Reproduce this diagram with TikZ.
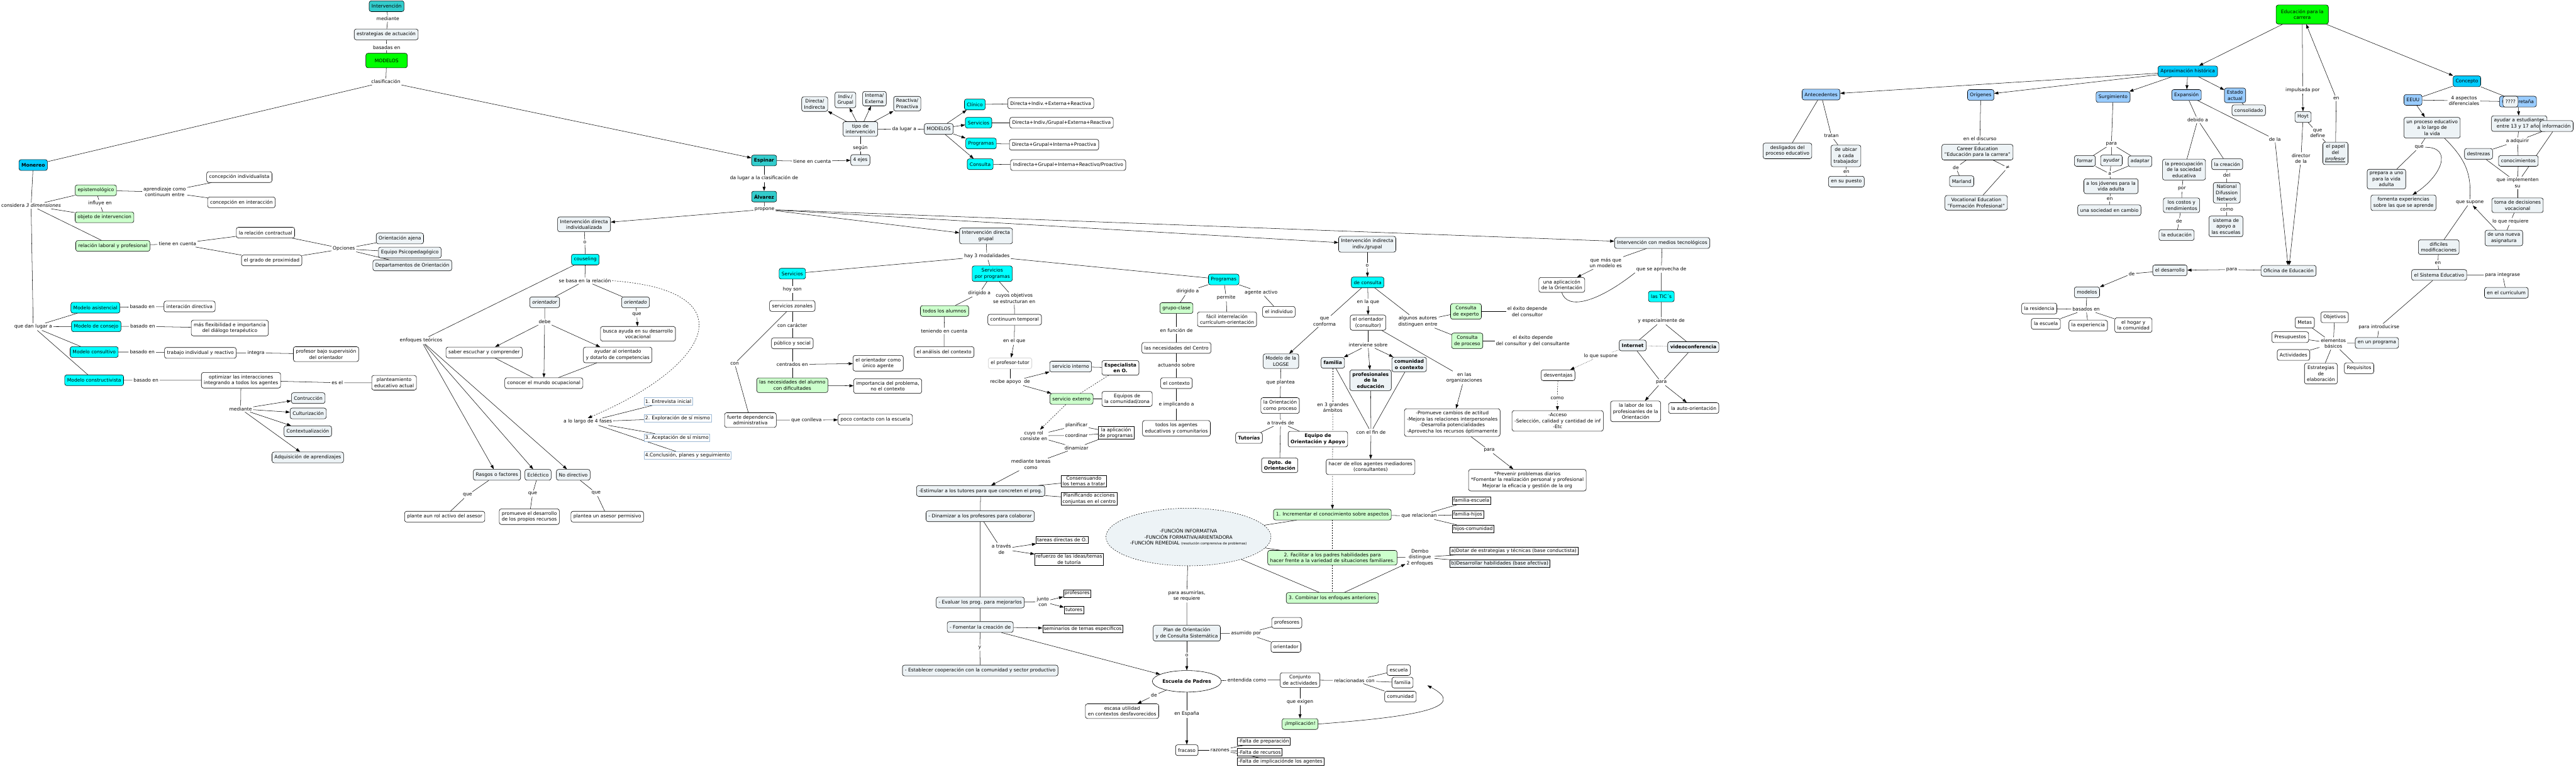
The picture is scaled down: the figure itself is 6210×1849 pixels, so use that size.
\documentclass[tikz,border=0pt]{standalone}
\usepackage{fontspec}
\setmainfont{DejaVu Sans}
\usetikzlibrary{arrows.meta,shapes.geometric,backgrounds}
\definecolor{cmgray}{HTML}{EDF3F6}
\definecolor{cmteal}{HTML}{33CCCC}
\definecolor{cmgreen}{HTML}{00FF00}
\definecolor{cmsky}{HTML}{00CCFF}
\definecolor{cmcyan}{HTML}{00FFFF}
\definecolor{cmblue}{HTML}{99CCFF}
\definecolor{cmlgreen}{HTML}{CCFFCC}
\definecolor{cmsteel}{HTML}{9DB9D5}
\newcommand{\cmfont}{\fontsize{11.5}{14.5}\selectfont}

\begin{document}
\begin{tikzpicture}[x=1pt, y=-1pt,
  cbox/.style={draw, line width=0.9pt, rounded corners=5pt, align=center,
               font=\cmfont, inner xsep=6pt, inner ysep=6pt, minimum height=26pt},
  cgray/.style={cbox, fill=cmgray},
  cwhite/.style={cbox, fill=white},
  ccyan/.style={cbox, fill=cmcyan},
  cteal/.style={cbox, fill=cmteal},
  csky/.style={cbox, fill=cmsky},
  cblue/.style={cbox, fill=cmblue},
  clgreen/.style={cbox, fill=cmlgreen},
  cgreen/.style={cbox, fill=cmgreen},
  cbold/.style={font=\cmfont\bfseries},
  cital/.style={font=\cmfont\itshape},
  sq/.style={draw, line width=0.8pt, fill=white, align=center, font=\cmfont,
             inner xsep=3pt, inner ysep=2pt, minimum height=18pt},
  phase/.style={draw=cmsteel, line width=0.8pt, fill=white, font=\cmfont,
                inner xsep=3pt, inner ysep=2pt, minimum height=18pt, anchor=west},
  lk/.style={align=center, font=\cmfont, inner sep=3pt},
  ln/.style={line width=0.8pt},
  ar/.style={ln, -{Triangle[length=10pt,width=7pt]}},
  dl/.style={ln, dashed},
  dar/.style={ar, dashed}]

\useasboundingbox (0,0) rectangle (6210,1849);

% ---- top: Intervencion -> MODELOS -------------------------------------
\node[cteal] (interv) at (932,15) {Intervención};
\node[lk] (lmed) at (935,45) {mediante};
\node[cgray] (estrat) at (931,83) {estrategias de actuación};
\node[lk] (lbas) at (932,114) {basadas en};
\node[cgreen, minimum width=100pt, minimum height=35pt] (modelos) at (932,146) {MODELOS};
\node[lk] (lclas) at (930,197) {clasificación};

% ---- Monereo ------------------------------------------------------------
\node[csky, cbold] (monereo) at (80,398) {Monereo};
\node[lk] (lcons) at (75,496) {considera \textit{3 dimensiones}};
\node[clgreen] (epist) at (231,459) {epistemológico};
\node[lk] (linfl) at (241,491) {influye en};
\node[clgreen] (objeto) at (252,524) {objeto de intervencion};
\node[clgreen] (relac) at (272,593) {relación laboral y profesional};
\node[lk] (lapr) at (397,463) {aprendizaje como\\continuum entre};
\node[cwhite] (cindiv) at (577,427) {concepción individualista};
\node[cwhite] (cinter) at (582,488) {concepción en interacción};
\node[lk] (ltien) at (428,588) {tiene en cuenta};
\node[cwhite] (contract) at (640,561) {la relación contractual};
\node[cwhite] (proxim) at (655,628) {el grado de proximidad};
\node[lk] (lopc) at (829,600) {Opciones};
\node[cgray] (ajena) at (964,575) {Orientación ajena};
\node[cgray] (equipo) at (988,609) {Equipo Psicopedagógico};
\node[cgray] (depart) at (994,640) {Departamentos de Orientación};

\node[lk] (ldan) at (80,788) {que dan lugar a};
\node[ccyan] (masist) at (230,742) {Modelo asistencial};
\node[ccyan] (mconse) at (232,787) {Modelo de consejo};
\node[ccyan] (mconsu) at (227,849) {Modelo consultivo};
\node[ccyan] (mconst) at (227,917) {Modelo constructivista};
\node[lk] (lb1) at (343,740) {basado en};
\node[lk] (lb2) at (344,787) {basado en};
\node[lk] (lb3) at (343,849) {basado en};
\node[lk] (lb4) at (352,917) {basado en};
\node[cwhite] (idir) at (457,739) {interación directiva};
\node[cwhite] (flex) at (554,791) {más flexibilidad e importancia\\del diálogo terapéutico};
\node[cwhite] (trab) at (483,851) {trabajo individual y reactivo};
\node[lk] (lint) at (617,851) {integra};
\node[cwhite] (prof) at (786,854) {profesor bajo supervisión\\del orientador};
\node[cwhite] (optim) at (581,917) {optimizar las interacciones\\integrando a todos los agentes};
\node[lk] (lesel) at (813,923) {es el};
\node[cwhite] (plant) at (950,923) {planteamiento\\educativo actual};
\node[lk] (lmed2) at (580,986) {mediante};
\node[cgray] (contr) at (743,960) {Contrucción};
\node[cgray] (cultu) at (743,997) {Culturización};
\node[cgray] (conte) at (742,1040) {Contextualización};
\node[cgray] (adqui) at (742,1103) {Adquisición de aprendizajes};

% ---- Espinar / Alvarez --------------------------------------------------
\node[cteal, cbold] (espinar) at (1842,387) {Espinar};
\node[lk] (ltien2) at (1958,389) {tiene en cuenta};
\node[cgray] (ejes) at (2074,386) {4 ejes};
\node[lk] (lseg) at (2074,356) {según};
\node[cgray] (tipo) at (2074,311) {tipo de\\intervención};
\node[cgray] (ax1) at (1964,251) {Directa/\\Indirecta};
\node[cgray] (ax2) at (2038,241) {Indiv./\\Grupal};
\node[cgray] (ax3) at (2108,238) {Interna/\\Externa};
\node[cgray] (ax4) at (2187,250) {Reactiva/\\Proactiva};
\node[lk] (ldal) at (2180,312) {da lugar a};
\node[cgray] (modelos2) at (2263,311) {MODELOS};
\node[ccyan] (clin) at (2350,252) {Clínico};
\node[ccyan] (serv) at (2359,296) {Servicios};
\node[ccyan] (prog) at (2365,346) {Programas};
\node[ccyan] (consu) at (2363,396) {Consulta};
\node[cwhite] (d1) at (2533,249) {Directa+Indiv.+Externa+Reactiva};
\node[cwhite] (d2) at (2559,296) {Directa+Indiv./Grupal+Externa+Reactiva};
\node[cwhite] (d3) at (2541,349) {Directa+Grupal+Interna+Proactiva};
\node[cwhite] (d4) at (2575,398) {Indirecta+Grupal+Interna+Reactivo/Proactivo};
\node[lk] (ldac) at (1842,430) {da lugar a la clasificación de};
\node[cteal, cbold] (alvarez) at (1842,474) {Álvarez};
\node[lk] (lprop) at (1843,505) {propone};

% ---- Intervencion directa individualizada ------------------------------
\node[cgray] (idi) at (1408,541) {Intervención directa\\individualizada};
\node[lk] (lo1) at (1410,584) {o};
\node[ccyan] (cous) at (1411,626) {couseling};
\node[lk] (lsebasa) at (1410,677) {se basa en la relación};
\node[cgray, cital] (orient) at (1313,729) {orientador};
\node[cgray, cital] (orientado) at (1532,729) {orientado};
\node[lk] (ldebe) at (1313,776) {debe};
\node[cwhite] (saber) at (1167,850) {saber escuchar y comprender};
\node[cwhite] (conocer) at (1311,924) {conocer el mundo ocupacional};
\node[cwhite] (ayudar) at (1489,856) {ayudar al orientado\\y dotarlo de competencias};
\node[lk] (lque1) at (1535,758) {que};
\node[cwhite] (busca) at (1538,805) {busca ayuda en su desarrollo\\vocacional};
\node[lk] (lenf) at (1015,821) {enfoques teóricos};
\node[cgray] (rasgos) at (1198,1145) {Rasgos o factores};
\node[cgray] (eclec) at (1297,1145) {Ecléctico};
\node[cgray] (nodir) at (1382,1145) {No directivo};
\node[lk] (lq1) at (1127,1194) {que};
\node[lk] (lq2) at (1284,1190) {que};
\node[lk] (lq3) at (1437,1189) {que};
\node[cwhite] (rolact) at (1072,1246) {plante aun rol activo del asesor};
\node[cwhite] (promu) at (1276,1246) {promueve el desarrollo\\de los propios recursos};
\node[cwhite] (permis) at (1464,1246) {plantea un asesor permisivo};
\node[lk] (lfases) at (1417,1017) {a lo largo de 4 fases};
\node[phase] (f1) at (1552,968) {1. Entrevista inicial};
\node[phase] (f2) at (1552,1009) {2. Exploración de sí mismo};
\node[phase] (f3) at (1552,1055) {3. Aceptación de sí mismo};
\node[phase] (f4) at (1552,1098) {4.Conclusión, planes y seguimiento};

% ---- Intervencion directa grupal ----------------------------------------
\node[cgray] (idg) at (2377,569) {Intervención directa\\grupal};
\node[lk] (lhay) at (2379,618) {hay 3 modalidades};
\node[ccyan] (servs) at (1910,660) {Servicios};
\node[ccyan] (sprog) at (2392,660) {Servicios\\por programas};
\node[ccyan] (progs) at (2950,674) {Programas};

\node[lk] (lhoy) at (1910,698) {hoy son};
\node[cwhite] (zonal) at (1910,738) {servicios zonales};
\node[lk] (lcar) at (1910,784) {con carácter};
\node[cwhite] (public) at (1910,828) {público y social};
\node[lk] (lcent) at (1910,879) {centrados en};
\node[cwhite] (unico) at (2117,876) {el orientador como\\único agente};
\node[clgreen] (necal) at (1910,929) {las necesidades del alumno\\con dificultades};
\node[cwhite] (import) at (2140,931) {importancia del problema,\\no el contexto};
\node[lk] (lcon) at (1771,877) {con};
\node[cwhite] (fuerte) at (1809,1013) {fuerte dependencia\\administrativa};
\node[lk] (lconl) at (1944,1013) {que conlleva};
\node[cwhite] (poco) at (2110,1012) {poco contacto con la escuela};

\node[lk] (ldir1) at (2361,707) {dirigido a};
\node[clgreen] (todos) at (2277,750) {todos los alumnos};
\node[lk] (lten) at (2276,798) {teniendo en cuenta};
\node[cwhite] (anali) at (2276,849) {el análisis del contexto};
\node[lk] (lcuyos) at (2445,720) {cuyos objetivos\\se estructuran en};
\node[cwhite] (contin) at (2446,771) {continuum temporal};
\node[lk] (lenq) at (2445,823) {en el que};
\node[cwhite, draw=gray!45] (tutor) at (2435,876) {el profesor-tutor};
\node[lk] (lrec) at (2435,921) {recibe apoyo\ \ de};
\node[cgray] (sint) at (2581,884) {servicio interno};
\node[clgreen] (sext) at (2583,962) {servicio externo};
\node[cwhite, cbold] (espec) at (2701,887) {Especialista\\en O.};
\node[cwhite] (eqcom) at (2717,962) {Equipos de\\la comunidad/zona};
\node[lk] (lrol) at (2492,1051) {cuyo rol\\consiste en};
\node[lk] (lplan) at (2595,1026) {planificar};
\node[lk] (lcoor) at (2595,1050) {coordinar};
\node[lk] (ldin) at (2595,1080) {dinamizar};
\node[sq, anchor=west] (aplic) at (2647,1044) {la aplicación\\de programas};
\node[lk] (ltar) at (2485,1120) {mediante tareas\\como};
\node[cgray] (estim) at (2364,1184) {-Estimular a los tutores para que concreten el prog.};
\node[sq, anchor=west] (consen) at (2558,1160) {Consensuando\\los temas a tratar};
\node[sq, anchor=west] (planif) at (2558,1203) {Planificando acciones\\conjuntas en el centro};
\node[cgray] (dinam) at (2363,1245) {- Dinamizar a los profesores para colaborar};
\node[lk] (ltrav) at (2414,1324) {a través\\de};
\node[sq, anchor=west] (tdir) at (2497,1302) {tareas directas de O.};
\node[sq, anchor=west] (refu) at (2494,1349) {refuerzo de las ideas/temas\\de tutoría};
\node[cgray] (evalu) at (2363,1453) {- Evaluar los prog. para mejorarlos};
\node[lk] (ljun) at (2514,1451) {junto\\con};
\node[sq, anchor=west] (sprof) at (2563,1431) {profesores};
\node[sq, anchor=west] (stut) at (2565,1471) {tutores};
\node[cgray] (foment) at (2363,1512) {- Fomentar la creación de};
\node[sq, anchor=west] (semin) at (2513,1516) {seminarios de temas específicos};
\node[lk] (ly) at (2362,1562) {y};
\node[cgray] (establ) at (2363,1617) {- Establecer cooperación con la comunidad y sector productivo};

\node[lk] (ldir2) at (2863,703) {dirigido a};
\node[lk] (lperm) at (2956,718) {permite};
\node[lk] (lagen) at (3040,705) {agente activo};
\node[clgreen] (grupo) at (2836,743) {grupo-clase};
\node[cwhite] (facil) at (2958,770) {fácil interrelación\\currículum-orientación};
\node[cwhite] (indiv) at (3083,752) {el individuo};
\node[lk] (lfun) at (2836,797) {en función de};
\node[cwhite] (necce) at (2836,839) {las necesidades del Centro};
\node[lk] (lact) at (2836,881) {actuando sobre};
\node[cwhite] (contx) at (2836,924) {el contexto};
\node[lk] (limp) at (2836,976) {e implicando a};
\node[cwhite] (agent) at (2836,1033) {todos los agentes\\educativos y comunitarios};

% ---- Intervencion indirecta: consulta -----------------------------------
\node[cgray] (iig) at (3296,589) {Intervención indirecta\\indiv./grupal};
\node[lk] (lo2) at (3296,640) {o};
\node[ccyan] (dcons) at (3297,681) {de consulta};
\node[lk] (lconf) at (3193,775) {que\\conforma};
\node[cgray] (logse) at (3088,871) {Modelo de la\\LOGSE};
\node[lk] (lplt) at (3087,922) {que plantea};
\node[cwhite] (oproc) at (3086,978) {la Orientación\\como proceso};
\node[lk] (ltrav2) at (3087,1020) {a través de};
\node[cwhite, cbold] (tutori) at (3011,1056) {Tutorías};
\node[cwhite, cbold] (eoa) at (3177,1059) {Equipo de\\Orientación y Apoyo};
\node[cwhite, cbold] (dpto) at (3085,1122) {Dpto. de\\Orientación};
\node[lk] (lenlq) at (3298,729) {en la que};
\node[cwhite] (orcons) at (3298,778) {el orientador\\(consultor)};
\node[lk] (lalg) at (3418,775) {algunos autores\\distinguen entre};
\node[lk] (linterv) at (3298,832) {interviene sobre};
\node[cgray, cbold] (fam) at (3213,875) {familia};
\node[cgray, cbold] (profed) at (3304,917) {profesionales\\de la\\educación};
\node[cgray, cbold] (comun) at (3397,879) {comunidad\\o contexto};
\node[lk] (lfin) at (3305,1042) {con el fin de};
\node[cwhite] (hacer) at (3304,1126) {hacer de ellos agentes mediadores\\(consultantes)};
\node[lk] (lamb) at (3213,983) {en 3 grandes\\ámbitos};
\node[clgreen] (cexp) at (3534,751) {Consulta\\de experto};
\node[lk] (lex1) at (3682,751) {el éxito depende\\del consultor};
\node[clgreen] (cpro) at (3537,822) {Consulta\\de proceso};
\node[lk] (lex2) at (3695,822) {el éxito depende\\del consultor y del consultante};
\node[lk] (lorg) at (3530,911) {en las\\organizaciones};
\node[cwhite] (promu2) at (3501,1019) {-Promueve cambios de actitud\\-Mejora las relaciones interpersonales\\-Desarrolla potencialidades\\-Aprovecha los recursos óptimamente};
\node[lk] (lpara1) at (3590,1086) {para};
\node[cwhite] (preven) at (3682,1158) {*Prevenir problemas diarios\\*Fomentar la realización personal y profesional\\Mejorar la eficacia y gestión de la org};

% ---- Escuela de Padres ------------------------------------------------
\node[clgreen] (incr) at (3212,1241) {1. Incrementar el conocimiento sobre aspectos};
\node[lk] (lrel) at (3421,1244) {que relacionan};
\node[sq, anchor=west] (fesc) at (3500,1207) {familia-escuela};
\node[sq, anchor=west] (fhij) at (3500,1241) {familia-hijos};
\node[sq, anchor=west] (hcom) at (3500,1275) {hijos-comunidad};
\node[clgreen] (facpad) at (3212,1345) {2. Facilitar a los padres habilidades para\\hacer frente a la variedad de situaciones familiares.};
\node[lk] (ldembo) at (3423,1344) {Dembo\\distingue\\2 enfoques};
\node[sq, anchor=west] (enfa) at (3495,1329) {a)Dotar de estrategias y técnicas (base conductista)};
\node[sq, anchor=west, fill=cmgray] (enfb) at (3495,1359) {b)Desarrollar habilidades (base afectiva)};
\node[clgreen] (combi) at (3212,1442) {3. Combinar los enfoques anteriores};
\node[ellipse, draw, dashed, line width=0.8pt, fill=cmgray, align=center, font=\cmfont,
      minimum width=366pt, minimum height=139pt, inner sep=0pt] (funcs) at (2865,1295)
  {-FUNCIÓN INFORMATIVA\\-FUNCIÓN FORMATIVA/ARIENTADORA\\-FUNCIÓN REMEDIAL {\fontsize{8}{10}\selectfont(resolución comprensiva de problemas)}};
\node[lk] (lasum) at (2861,1437) {para asumirlas,\\se requiere};
\node[cgray] (plan) at (2861,1527) {Plan de Orientación\\y de Consulta Sistemática};
\node[lk] (lasp) at (3004,1528) {asumido por};
\node[cwhite] (pprof) at (3102,1502) {profesores};
\node[cwhite] (porie) at (3100,1560) {orientador};
\node[lk] (lo3) at (2861,1580) {o};
\node[ellipse, draw, line width=0.9pt, fill=white, cbold, minimum width=150pt,
      minimum height=52pt, inner sep=0pt] (escuela) at (2861,1643) {Escuela de Padres};
\node[lk] (lde) at (2782,1677) {de};
\node[cwhite] (escasa) at (2705,1715) {escasa utilidad\\en contextos desfavorecidos};
\node[lk] (lesp) at (2861,1722) {en España};
\node[cwhite] (fracaso) at (2861,1809) {fracaso};
\node[lk] (lraz) at (2941,1809) {razones};
\node[sq, anchor=west] (r1) at (2982,1788) {-Falta de preparación};
\node[sq, anchor=west] (r2) at (2982,1814) {-Falta de recursos};
\node[sq, anchor=west] (r3) at (2982,1837) {-Falta de implicaciónde los agentes};
\node[lk] (lent) at (3006,1640) {entendida como};
\node[cwhite] (conj) at (3134,1640) {Conjunto\\de actividades};
\node[lk] (lrelc) at (3265,1641) {relacionadas con};
\node[cwhite] (pesc) at (3372,1616) {escuela};
\node[cwhite] (pfam) at (3381,1646) {familia};
\node[cwhite] (pcom) at (3376,1680) {comunidad};
\node[lk] (lexig) at (3134,1693) {que exigen};
\node[clgreen] (impl) at (3134,1746) {¡Implicación!};
\coordinate (implend) at (3441,1653);

% ---- medios tecnologicos ------------------------------------------------
\node[cgray] (imt) at (4007,586) {Intervención con medios tecnológicos};
\node[lk] (lmas) at (3871,634) {que más que\\un modelo es};
\node[cwhite] (aplor) at (3765,687) {una aplicacicón\\de la Orientación};
\node[lk] (lapro) at (4005,649) {que se aprovecha de};
\node[ccyan] (tics) at (4005,715) {las TIC´s};
\node[lk] (lesp2) at (4005,774) {y especialmente de};
\node[cgray, cbold] (inet) at (3936,833) {Internet};
\node[cgray, cbold] (video) at (4082,837) {videoconferencia};
\node[lk] (lsup) at (3859,858) {lo que supone};
\node[cwhite] (desv) at (3756,905) {desventajas};
\node[lk] (lcomo) at (3754,960) {como};
\node[cwhite] (acceso) at (3755,1015) {-Acceso\\-Selección, calidad y cantidad de inf\\-Etc};
\node[lk] (lpara2) at (4005,922) {para};
\node[cwhite] (labor) at (3943,992) {la labor de los\\profesioanles de la\\Orientación};
\node[cwhite] (auto) at (4083,984) {la auto-orientación};

% ---- Educacion para la carrera ------------------------------------------
\node[cgreen, minimum width=126pt, minimum height=46pt] (edu) at (5550,35) {Educación para la\\carrera};
\node[csky] (aprox) at (5274,172) {Aproximación histórica};
\node[csky] (concep) at (5947,196) {Concepto};
\node[lk] (limpul) at (5551,217) {impulsada por};
\node[cgray] (hoyt) at (5552,282) {Hoyt};
\node[lk] (lqdef) at (5587,321) {que\\define};
\node[cgray] (papel) at (5630,370) {el papel\\del\\\underline{\textit{profesor}}};
\node[lk] (len1) at (5632,237) {en};
\node[lk] (ldirec) at (5547,382) {director\\de la};
\node[cblue] (antec) at (4390,228) {Antecedentes};
\node[cgray] (deslig) at (4309,364) {desligados del\\proceso educativo};
\node[lk] (ltrat) at (4415,328) {tratan};
\node[cgray] (ubicar) at (4450,376) {de ubicar\\a cada\\trabajador};
\node[lk] (len2) at (4451,415) {en};
\node[cgray] (puesto) at (4451,438) {en su puesto};
\node[cblue] (orig) at (4775,229) {Orígenes};
\node[cblue] (surg) at (5094,234) {Surgimiento};
\node[cblue] (expan) at (5271,229) {Expansión};
\node[cblue] (estado) at (5388,230) {Estado\\actual};
\node[cgray] (consol) at (5421,266) {consolidado};

\node[lk] (ldisc) at (4773,335) {en el discurso};
\node[cgray] (career) at (4767,367) {Career Education\\"Educación para la carrera"};
\node[lk] (lde2) at (4715,404) {de};
\node[cgray] (marland) at (4729,437) {Marland};
\node[lk] (lneq) at (4840,404) {≠};
\node[cgray] (vocat) at (4764,489) {Vocational Education\\"Formación Profesional"};

\node[lk] (lpara3) at (5090,347) {para};
\node[cgray] (formar) at (5026,388) {formar};
\node[cgray] (ayud) at (5090,387) {ayudar};
\node[cgray] (adapt) at (5159,389) {adaptar};
\node[lk] (la) at (5086,419) {a};
\node[cgray] (jov) at (5089,449) {a los jóvenes para la\\vida adulta};
\node[lk] (len3) at (5086,480) {en};
\node[cgray] (socie) at (5085,507) {una sociedad en cambio};

\node[lk] (ldeb) at (5298,289) {debido a};
\node[cgray] (preoc) at (5265,409) {la preocupación\\de la sociedad\\educativa};
\node[cgray] (creac) at (5369,396) {la creación};
\node[lk] (ldel) at (5368,423) {del};
\node[cgray] (ndn) at (5368,465) {National\\Difussion\\Network};
\node[lk] (lcomo2) at (5368,505) {como};
\node[cgray] (apoyo) at (5366,546) {sistema de\\apoyo a\\las escuelas};
\node[lk] (lpor) at (5260,455) {por};
\node[cgray] (costos) at (5259,495) {los costos y\\rendimientos};
\node[lk] (lde3) at (5253,533) {de};
\node[cgray] (educ) at (5247,567) {la educación};
\node[lk] (ldela) at (5484,336) {de la};

\node[cgray] (ofic) at (5517,653) {Oficina de Educación};
\node[lk] (lpara4) at (5380,650) {para};
\node[cgray] (desar) at (5231,652) {el desarrollo};
\node[lk] (lde4) at (5139,660) {de};
\node[cgray] (mods) at (5031,705) {modelos};
\node[lk] (lbasd) at (5029,746) {basados en};
\node[cwhite] (resid) at (4916,744) {la residencia};
\node[cwhite] (esc) at (4932,781) {la escuela};
\node[cwhite] (exper) at (5034,785) {la experiencia};
\node[cwhite] (hogar) at (5143,784) {el hogar y\\la comunidad};

% ---- Concepto -----------------------------------------------------------
\node[cblue] (eeuu) at (5817,241) {EEUU};
\node[lk] (l4asp) at (5940,243) {4 aspectos\\diferenciales};
\node[cblue] (gbr) at (6070,245) {Gran Bretaña};
\node[cgray] (qqq) at (6052,245) {????};
\node[cgray] (proc) at (5863,308) {un proceso educativo\\a lo largo de\\la vida};
\node[lk] (lque2) at (5832,355) {que};
\node[cgray] (prepa) at (5753,432) {prepara a uno\\para la vida\\adulta};
\node[cgray] (foex) at (5794,489) {fomenta experiencias\\sobre las que se aprende};
\node[lk] (lsupo) at (5954,488) {que supone};
\node[cgray] (dific) at (5879,596) {dificiles\\modificaciones};
\node[cgray] (nueva) at (6036,574) {de una nueva\\asignatura};
\node[cgray] (toma) at (6069,495) {toma de decisiones\\vocacional};
\node[lk] (lreq) at (6052,534) {lo que requiere};
\node[lk] (limpl) at (6069,441) {que implementen\\su};
\node[cgray] (ayest) at (6073,298) {ayudar a estudiantes\\entre 13 y 17 años};
\node[cgray] (infor) at (6163,304) {información};
\node[lk] (ladq) at (6069,340) {a adquirir};
\node[cgray] (destr) at (5975,371) {destrezas};
\node[cgray] (conoc) at (6071,388) {conocimientos};
\node[lk] (len4) at (5877,634) {en};
\node[cgray] (siste) at (5880,663) {el Sistema Educativo};
\node[lk] (lint2) at (6033,663) {para integrase};
\node[cgray] (curri) at (6042,706) {en el curriculum};
\node[lk] (lintro) at (5735,789) {para introducirse};
\node[cgray] (enprog) at (5730,827) {en un programa};
\node[lk] (lelem) at (5625,828) {elementos\\básicos};
\node[cwhite] (objet) at (5628,765) {Objetivos};
\node[cwhite] (metas) at (5556,778) {Metas};
\node[cwhite] (presu) at (5521,813) {Presupuestos};
\node[cwhite] (activ) at (5529,856) {Actividades};
\node[cwhite] (estra) at (5595,901) {Estrategias\\de\\elaboración};
\node[cwhite] (requi) at (5687,888) {Requisitos};

% ---- connectors ---------------------------------------------------------
\begin{scope}[on background layer]
\draw[ln] (interv) -- (lmed) -- (estrat) -- (lbas) -- (modelos) -- (lclas);
\draw[ln] (lclas) -- (monereo);
\draw[ar] (lclas) -- (espinar);

\draw[ln] (monereo) -- (lcons) -- (ldan);
\foreach \t in {epist,objeto,relac} \draw[ln] (lcons) -- (\t);
\draw[ln] (epist) -- (linfl) -- (objeto);
\draw[ln] (epist) -- (lapr);
\foreach \t in {cindiv,cinter} \draw[ln] (lapr) -- (\t);
\draw[ln] (relac) -- (ltien);
\foreach \t in {contract,proxim} \draw[ln] (ltien) -- (\t) -- (lopc);
\foreach \t in {ajena,equipo,depart} \draw[ln] (lopc) -- (\t);
\foreach \t in {masist,mconse,mconsu,mconst} \draw[ln] (ldan) -- (\t);
\draw[ln] (masist) -- (lb1) -- (idir);
\draw[ln] (mconse) -- (lb2) -- (flex);
\draw[ln] (mconsu) -- (lb3) -- (trab) -- (lint) -- (prof);
\draw[ln] (mconst) -- (lb4) -- (optim) -- (lesel) -- (plant);
\draw[ln] (optim) -- (lmed2);
\foreach \t in {contr,cultu,conte,adqui} \draw[ar] (lmed2) -- (\t);

\draw[ln] (espinar) -- (ltien2);
\draw[ar] (ltien2) -- (ejes);
\draw[ln] (tipo) -- (lseg) -- (ejes);
\foreach \t in {ax1,ax2,ax3,ax4} \draw[ar] (tipo) -- (\t);
\draw[ln] (tipo) -- (ldal) -- (modelos2);
\foreach \t in {clin,serv,prog,consu} \draw[ar] (modelos2) -- (\t);
\draw[ln] (clin) -- (d1);
\draw[ln] (serv) -- (d2);
\draw[ln] (prog) -- (d3);
\draw[ln] (consu) -- (d4);
\draw[ln] (espinar) -- (ldac);
\draw[ar] (ldac) -- (alvarez);
\draw[ln] (alvarez) -- (lprop);
\foreach \t in {idi,idg,iig,imt} \draw[ar] (lprop) -- (\t);

\draw[ln] (idi) -- (lo1) -- (cous) -- (lsebasa);
\draw[ln] (lsebasa) -- (orient) -- (ldebe);
\draw[ln] (lsebasa) -- (orientado) -- (lque1);
\draw[ar] (lque1) -- (busca);
\foreach \t in {saber,conocer,ayudar} \draw[ar] (ldebe) -- (\t);
\draw[ln] (saber) -- (conocer);
\draw[ln] (ayudar) -- (conocer);
\draw[dar] (lsebasa.east) .. controls (1800,700) and (1720,880) .. (lfases.north);
\foreach \t in {f1,f2,f3,f4} \draw[ln] (lfases) -- (\t);
\draw[ln] (cous) -- (lenf);
\foreach \t in {rasgos,eclec,nodir} \draw[ar] (lenf) -- (\t);
\draw[ln] (rasgos) -- (lq1) -- (rolact);
\draw[ln] (eclec) -- (lq2) -- (promu);
\draw[ln] (nodir) -- (lq3) -- (permis);

\draw[ln] (idg) -- (lhay);
\foreach \t in {servs,sprog,progs} \draw[ln] (lhay) -- (\t);
\draw[ln] (servs) -- (lhoy) -- (zonal) -- (lcar) -- (public) -- (lcent) -- (necal);
\draw[ar] (lcent) -- (unico);
\draw[ar] (necal) -- (import);
\draw[ln] (zonal) -- (lcon) -- (fuerte) -- (lconl);
\draw[ar] (lconl) -- (poco);
\draw[ln] (sprog) -- (ldir1) -- (todos) -- (lten) -- (anali);
\draw[ln] (sprog) -- (lcuyos) -- (contin) -- (lenq);
\draw[ar] (lenq) -- (tutor);
\draw[ln] (tutor) -- (lrec);
\foreach \t in {sint,sext} \draw[ar] (lrec) -- (\t);
\draw[ln] (sint) -- (espec);
\draw[ln] (sext) -- (eqcom);
\draw[dl] (espec) -- (sext);
\draw[dar] (sext) -- (lrol);
\foreach \t in {lplan,lcoor,ldin} \draw[ln] (lrol) -- (\t) -- (aplic);
\draw[ln] (ldin) -- (ltar);
\draw[ar] (ltar) -- (estim);
\foreach \t in {consen,planif} \draw[ln] (estim) -- (\t);
\draw[ln] (estim) -- (dinam) -- (evalu) -- (foment) -- (ly) -- (establ);
\draw[ln] (dinam) -- (ltrav);
\foreach \t in {tdir,refu} \draw[ar] (ltrav) -- (\t);
\draw[ln] (evalu) -- (ljun);
\foreach \t in {sprof,stut} \draw[ar] (ljun) -- (\t);
\draw[ar] (foment) -- (semin);
\draw[ar] (foment) -- (escuela);

\draw[ln] (progs) -- (ldir2) -- (grupo);
\draw[ln] (progs) -- (lperm) -- (facil);
\draw[ln] (progs) -- (lagen) -- (indiv);
\draw[ln] (grupo) -- (lfun) -- (necce) -- (lact) -- (contx) -- (limp) -- (agent);

\draw[ln] (iig) -- (lo2);
\draw[ar] (lo2) -- (dcons);
\draw[ln] (dcons) -- (lconf);
\draw[ar] (lconf) -- (logse);
\draw[ln] (logse) -- (lplt) -- (oproc) -- (ltrav2);
\foreach \t in {tutori,eoa,dpto} \draw[ln] (ltrav2) -- (\t);
\draw[ln] (dcons) -- (lenlq);
\draw[ar] (lenlq) -- (orcons);
\draw[ln] (dcons) -- (lalg);
\foreach \t in {cexp,cpro} \draw[ln] (lalg) -- (\t);
\draw[ln] (cexp) -- (lex1);
\draw[ln] (cpro) -- (lex2);
\draw[ln] (orcons) -- (linterv);
\foreach \t in {fam,profed,comun} \draw[ar] (linterv) -- (\t);
\foreach \t in {fam,profed,comun} \draw[ln] (\t) -- (lfin);
\draw[ar] (lfin) -- (hacer);
\draw[ln] (orcons) -- (lorg);
\draw[ar] (lorg) -- (promu2);
\draw[ln] (promu2) -- (lpara1);
\draw[ar] (lpara1) -- (preven);
\draw[dl] (fam) -- (lamb);
\draw[dar] (lamb) -- (incr);
\draw[dl] (incr) -- (facpad) -- (combi);

\foreach \t in {incr,facpad,combi} \draw[ln] (funcs) -- (\t);
\draw[ln] (incr) -- (lrel);
\foreach \t in {fesc,fhij,hcom} \draw[ln] (lrel) -- (\t);
\draw[ln] (facpad) -- (ldembo);
\foreach \t in {enfa,enfb} \draw[ln] (ldembo) -- (\t);
\draw[ar] (combi) -- (ldembo);
\draw[ln] (funcs) -- (lasum) -- (plan) -- (lasp);
\foreach \t in {pprof,porie} \draw[ln] (lasp) -- (\t);
\draw[ln] (plan) -- (lo3);
\draw[ar] (lo3) -- (escuela);
\draw[ln] (escuela) -- (lde);
\draw[ar] (lde) -- (escasa);
\draw[ln] (escuela) -- (lesp);
\draw[ar] (lesp) -- (fracaso);
\draw[ln] (fracaso) -- (lraz);
\foreach \t in {r1,r2,r3} \draw[ln] (lraz) -- (\t);
\draw[ln] (escuela) -- (lent) -- (conj) -- (lrelc);
\foreach \t in {pesc,pfam,pcom} \draw[ln] (lrelc) -- (\t);
\draw[ln] (conj) -- (lexig);
\draw[ar] (lexig) -- (impl);
\draw[ar] (impl.east) .. controls (3420,1728) and (3540,1705) .. (implend);

\draw[ln] (imt) -- (lmas);
\draw[ar] (lmas) -- (aplor);
\draw[ln] (imt) -- (lapro) -- (tics) -- (lesp2);
\draw[ln] (aplor.south) .. controls (3778,748) and (3850,730) .. (lapro.south west);
\foreach \t in {inet,video} \draw[ln] (lesp2) -- (\t);
\draw[ln, dotted] (inet) -- (video);
\draw[ln, dotted] (inet) -- (lsup);
\draw[ar, dotted] (lsup) -- (desv);
\draw[dl] (desv) -- (lcomo);
\draw[dar] (lcomo) -- (acceso);
\foreach \t in {inet,video} \draw[ln] (\t) -- (lpara2);
\foreach \t in {labor,auto} \draw[ar] (lpara2) -- (\t);

\draw[ar] (edu) -- (aprox);
\draw[ar] (edu) -- (concep);
\draw[ln] (edu) -- (limpul);
\draw[ar] (limpul) -- (hoyt);
\draw[ln] (hoyt) -- (lqdef) -- (papel) -- (len1);
\draw[ar] (len1) -- (edu);
\draw[ln] (hoyt) -- (ldirec);
\draw[ar] (ldirec) -- (ofic);
\draw[ln] (expan) -- (ldela);
\draw[ar] (ldela) -- (ofic);
\foreach \t in {antec,orig,surg,expan,estado} \draw[ar] (aprox) -- (\t);
\draw[ln] (estado) -- (consol);
\draw[ln] (antec) -- (deslig);
\draw[ln] (antec) -- (ltrat) -- (ubicar) -- (len2) -- (puesto);
\draw[ln] (orig) -- (ldisc) -- (career);
\draw[ln] (career) -- (lde2) -- (marland);
\draw[ln] (career) -- (lneq) -- (vocat);
\foreach \t in {formar,ayud,adapt} \draw[ln] (lpara3) -- (\t) -- (la);
\draw[ln] (surg) -- (lpara3);
\draw[ln] (la) -- (jov) -- (len3) -- (socie);
\draw[ln] (expan) -- (ldeb);
\foreach \t in {preoc,creac} \draw[ln] (ldeb) -- (\t);
\draw[ln] (creac) -- (ldel) -- (ndn) -- (lcomo2) -- (apoyo);
\draw[ln] (preoc) -- (lpor) -- (costos) -- (lde3) -- (educ);
\draw[ln] (ofic) -- (lpara4);
\draw[ar] (lpara4) -- (desar);
\draw[ln] (desar) -- (lde4);
\draw[ar] (lde4) -- (mods);
\draw[ln] (mods) -- (lbasd);
\foreach \t in {resid,esc,exper,hogar} \draw[ln] (lbasd) -- (\t);

\draw[ln] (concep) -- (eeuu);
\draw[ln] (concep) -- (gbr);
\draw[ln] (eeuu) -- (l4asp) -- (qqq);
\draw[ar] (eeuu) -- (proc);
\draw[ar] (gbr) -- (ayest);
\draw[ln] (proc) -- (lque2) -- (prepa);
\draw[ar] (lque2.east) .. controls (5915,355) and (5885,425) .. ([xshift=22pt]foex.north);
\draw[ln] ([xshift=30pt]proc.south) .. controls (5945,385) and (5958,420) .. (lsupo.north);
\draw[ln] (lsupo) -- (dific);
\draw[ar] (nueva) -- (lsupo);
\draw[ln] (toma) -- (lreq) -- (nueva);
\draw[ln] (ayest) -- (ladq);
\foreach \t in {destr,conoc,infor} \draw[ln] (ladq) -- (\t);
\foreach \t in {destr,conoc,infor} \draw[ln] (\t) -- (limpl);
\draw[ln] (limpl) -- (toma);
\draw[ln] (dific) -- (len4) -- (siste) -- (lint2) -- (curri);
\draw[ln] (siste) -- (lintro) -- (enprog) -- (lelem);
\foreach \t in {objet,metas,presu,activ,estra,requi} \draw[ln] (lelem) -- (\t);
\end{scope}
\end{tikzpicture}
\end{document}
